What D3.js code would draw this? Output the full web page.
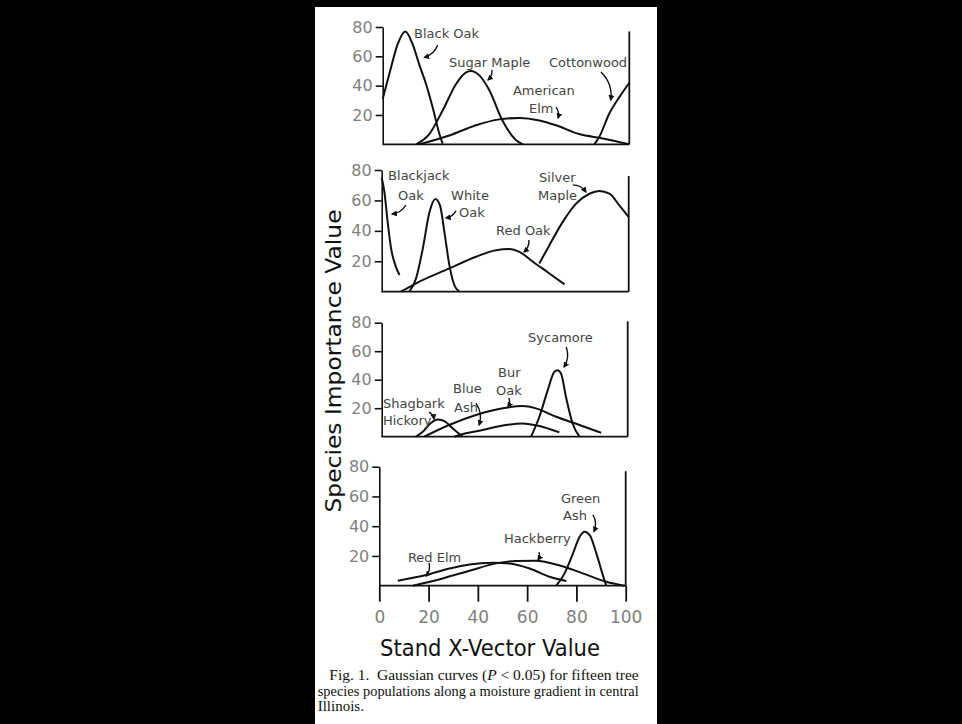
<!DOCTYPE html>
<html>
<head>
<meta charset="utf-8">
<script src="https://cdn.jsdelivr.net/npm/d3@7"></script>
<style>
  html, body { margin: 0; padding: 0; background: #000; }
  svg { display: block; }
</style>
</head>
<body>
<div id="chart"></div>
<script>
(() => {
  // ---- data ----
  const xTicks = [0, 20, 40, 60, 80, 100];
  const yTicks = [20, 40, 60, 80];
  const rightLineTop = [77, 76, 81, 77];

  // panel 1
  const blackOak = [[0, 31], [3, 50], [6, 68], [9.2, 77], [12.2, 68], [14.9, 54], [17.6, 41], [20.3, 25], [23, 7], [24.3, 0.5]];
  const sugarMaple = [[13.5, 0], [18.9, 7], [24.3, 23], [29.7, 41], [33.8, 49], [35.8, 50], [39.2, 47], [43.2, 37], [48.6, 16], [54, 3], [56.8, 0]];
  const americanElm = [[14.9, 0], [27, 6], [37.8, 13], [47.3, 17], [55.4, 18], [63.5, 16.3], [70.3, 13], [79.7, 7], [89.2, 4], [100, 0]];
  const cottonwood = [[85.8, 0], [87.8, 5], [91.9, 21], [95.9, 32], [100, 42]];

  // panel 2
  const blackjackOak = [[0, 75], [1.1, 65.5], [2.4, 46], [3.8, 28.4], [5.5, 17.5], [7.2, 11]];
  const whiteOak = [[11.2, 0], [13.9, 8.7], [16.6, 28], [19.3, 52], [21.7, 61], [23.6, 56.8], [25.4, 39], [27.4, 17.5], [29.4, 4.4], [31.4, 0]];
  const redOak = [[7.8, 0], [13.9, 5.5], [27.4, 15.3], [38.2, 23], [46.3, 27.3], [51.7, 28], [55.8, 26.2], [61.2, 19.7], [67.9, 12], [74, 4.8]];
  const silverMaple = [[63.8, 18.6], [67.9, 30.6], [73.3, 45.9], [78.7, 57.9], [84.1, 64.4], [88.1, 66.2], [92.2, 64.4], [96.2, 56.8], [100, 49.1]];

  // panel 3
  const shagbarkHickory = [[13.9, 0], [16.7, 3.5], [20.1, 9.8], [22.8, 12.1], [25.5, 10.9], [28.9, 5.8], [32.9, 0]];
  const blueAsh = [[29.5, 0], [31.6, 1.2], [41, 4.7], [50.5, 8.2], [57.3, 9.3], [64.1, 7.5], [72.2, 3]];
  const burOak = [[17.3, 0], [27.4, 8.2], [38.3, 15.2], [49.2, 19.9], [57.3, 21.5], [62.7, 19.9], [70.9, 14], [80.4, 8.2], [89.2, 2.8]];
  const sycamore = [[60.7, 0], [64.1, 14], [67.5, 32.7], [70.2, 45.6], [71.5, 46.7], [72.9, 44.4], [74.9, 28], [77.6, 9.3], [80.4, 0]];

  // panel 4
  const redElm = [[7.5, 3.4], [19, 7.2], [28.5, 11.6], [36.6, 14.3], [46.1, 15.4], [52.8, 15], [61, 11.6], [69.1, 6], [75.9, 3.1]];
  const hackberry = [[13.6, 0], [25.7, 4.9], [36.6, 10], [47.4, 15], [55.5, 16.6], [63.6, 16.8], [71.8, 14.3], [82.6, 8.3], [92.1, 2.7], [99.6, 0]];
  const greenAsh = [[71.8, 0], [75.2, 8.3], [78.6, 21.7], [81.3, 32.9], [83.3, 36.3], [85.4, 34], [88.1, 21.7], [90.5, 8.3], [92.1, 0]];

  const panelCurves = [
    [blackOak, sugarMaple, americanElm, cottonwood],
    [blackjackOak, whiteOak, redOak, silverMaple],
    [shagbarkHickory, blueAsh, burOak, sycamore],
    [redElm, hackberry, greenAsh]
  ];

  // labels: [text, x, y] in data units
  const panelLabels = [
    [["Black Oak", 12.7, 72.5], ["Sugar Maple", 26.9, 52.7], ["Cottonwood", 67.4, 52.7], ["American", 52.8, 33.6], ["Elm", 59.3, 21.4]],
    [["Blackjack", 2.6, 73.4], ["Oak", 6.6, 60.3], ["White", 28.1, 60.3], ["Oak", 31.3, 49.1], ["Red Oak", 46.3, 37.3], ["Silver", 63.7, 72.1], ["Maple", 63.3, 60.3]],
    [["Sycamore", 59.5, 66.5], ["Bur", 47.3, 41.9], ["Oak", 46.5, 29.3], ["Blue", 29, 30.7], ["Ash", 29.4, 17.3], ["Shagbark", 0.5, 20.1], ["Hickory", 0.5, 8.2]],
    [["Green", 73.7, 55.6], ["Ash", 74.6, 44.5], ["Hackberry", 50.6, 28.4], ["Red Elm", 11.6, 16.0]]
  ];

  // arrows: [x1, y1, x2, y2] in data units
  const panelArrows = [
    [[22.3, 67.7, 16.9, 59.3], [44.3, 50.7, 42.7, 43.9], [88.5, 49.3, 92.5, 30.2], [70.3, 25.4, 71.1, 17.9]],
    [[9.8, 57, 4.2, 51.1], [30.1, 53.1, 26, 48.5], [59.6, 34, 57.6, 26.1], [77.4, 70.2, 82.7, 65.5]],
    [[75, 63, 74.1, 48.9], [51.7, 27.2, 51.3, 20.9], [38.3, 23.6, 39.6, 8.2], [19.2, 17.3, 21.3, 12.4]],
    [[86.7, 47.7, 87.1, 36.4], [64.8, 22.6, 64.4, 17.3], [20.2, 15.3, 19, 6.5]]
  ];

  const captionLines = [
    "Fig. 1.  Gaussian curves (P < 0.05) for fifteen tree",
    "species populations along a moisture gradient in central",
    "Illinois."
  ];

  // ---- layout ----
  const width = 962, height = 724;
  const panels = [
    { x0: 382.7, x1: 629.3, base: 144.3, top: 27 },
    { x0: 381.7, x1: 628.7, base: 291.7, top: 170 },
    { x0: 381.7, x1: 627.7, base: 436.7, top: 322.7 },
    { x0: 379.3, x1: 625.7, base: 585.7, top: 466.7 }
  ];
  const ink = "#111";
  const letterFont = "'DejaVu Sans', sans-serif";

  const svg = d3.select("#chart").append("svg")
    .attr("width", width)
    .attr("height", height);

  svg.append("rect").attr("width", width).attr("height", height).attr("fill", "#000");
  svg.append("rect")
    .attr("x", 315).attr("y", 7)
    .attr("width", 342).attr("height", height - 7)
    .attr("fill", "#fff");

  const defs = svg.append("defs");
  defs.append("marker")
    .attr("id", "head")
    .attr("viewBox", "0 0 10 10")
    .attr("refX", 8).attr("refY", 5)
    .attr("markerWidth", 6).attr("markerHeight", 6)
    .attr("markerUnits", "userSpaceOnUse")
    .attr("orient", "auto")
    .append("path")
    .attr("d", "M0,0 L10,5 L0,10 Z")
    .attr("fill", ink);

  panels.forEach((p, i) => {
    const x = d3.scaleLinear().domain([0, 100]).range([p.x0, p.x1]);
    const y = d3.scaleLinear().domain([0, 80]).range([p.base, p.top]);
    const g = svg.append("g");

    // left axis
    g.append("g")
      .attr("transform", `translate(${p.x0},0)`)
      .call(d3.axisLeft(y).tickValues(yTicks).tickSize(7).tickSizeOuter(0).tickPadding(3))
      .call(a => a.selectAll("path, line").attr("stroke", ink).attr("stroke-width", 1.6))
      .call(a => a.selectAll("text")
        .attr("fill", "#808080")
        .style("font", `16px ${letterFont}`));

    // baseline + right edge
    g.append("line")
      .attr("x1", x(0)).attr("x2", x(100))
      .attr("y1", y(0)).attr("y2", y(0))
      .attr("stroke", ink).attr("stroke-width", 1.8);
    g.append("line")
      .attr("x1", x(100)).attr("x2", x(100))
      .attr("y1", y(0)).attr("y2", y(rightLineTop[i]))
      .attr("stroke", ink).attr("stroke-width", 1.8);

    // curves
    const line = d3.line()
      .x(d => x(d[0]))
      .y(d => y(d[1]))
      .curve(d3.curveMonotoneX);
    g.selectAll("path.curve")
      .data(panelCurves[i])
      .join("path")
      .attr("class", "curve")
      .attr("d", line)
      .attr("fill", "none")
      .attr("stroke", ink)
      .attr("stroke-width", 2);

    // labels
    g.selectAll("text.lab")
      .data(panelLabels[i])
      .join("text")
      .attr("class", "lab")
      .attr("x", d => x(d[1]))
      .attr("y", d => y(d[2]))
      .attr("fill", "#444")
      .style("font", `13px ${letterFont}`)
      .text(d => d[0]);

    // arrows
    g.selectAll("path.arrow")
      .data(panelArrows[i])
      .join("path")
      .attr("class", "arrow")
      .attr("d", d => {
        const ax = x(d[0]), ay = y(d[1]), bx = x(d[2]), by = y(d[3]);
        const mx = (ax + bx) / 2, my = (ay + by) / 2;
        const dx = bx - ax, dy = by - ay;
        const cx = mx + dy * 0.25, cy = my - dx * 0.25;
        return `M${ax},${ay} Q${cx},${cy} ${bx},${by}`;
      })
      .attr("fill", "none")
      .attr("stroke", ink)
      .attr("stroke-width", 1.4)
      .attr("marker-end", "url(#head)");

    if (i === panels.length - 1) {
      g.append("g")
        .attr("transform", `translate(0,${p.base})`)
        .call(d3.axisBottom(x).tickValues(xTicks).tickSize(16).tickSizeOuter(0).tickPadding(9))
        .call(a => a.select(".domain").remove())
        .call(a => a.selectAll("line").attr("stroke", ink).attr("stroke-width", 1.8))
        .call(a => a.selectAll("text")
          .attr("fill", "#808080")
          .style("font", `17px ${letterFont}`));
    }
  });

  // axis titles
  svg.append("text")
    .attr("transform", "translate(341,361) rotate(-90)")
    .attr("text-anchor", "middle")
    .attr("fill", ink)
    .attr("textLength", 303)
    .attr("lengthAdjust", "spacingAndGlyphs")
    .style("font", `22px ${letterFont}`)
    .text("Species Importance Value");

  svg.append("text")
    .attr("x", 380).attr("y", 656)
    .attr("fill", ink)
    .attr("textLength", 220)
    .attr("lengthAdjust", "spacingAndGlyphs")
    .style("font", `23px ${letterFont}`)
    .text("Stand X-Vector Value");

  // caption
  const capX = [329.3, 317.7, 317.7];
  const capW = [309.4, 321, null];
  const capY = [680, 695.5, 710.5];
  captionLines.forEach((t, k) => {
    const txt = svg.append("text")
      .attr("x", capX[k]).attr("y", capY[k])
      .attr("fill", "#111")
      .style("font", "15px 'Liberation Serif', serif")
      .style("white-space", "pre");
    if (capW[k]) txt.attr("textLength", capW[k]).attr("lengthAdjust", "spacingAndGlyphs");
    if (k === 0) {
      txt.append("tspan").text("Fig. 1.  Gaussian curves (");
      txt.append("tspan").style("font-style", "italic").text("P");
      txt.append("tspan").text(" < 0.05) for fifteen tree");
    } else {
      txt.text(t);
    }
  });
})();
</script>
</body>
</html>
